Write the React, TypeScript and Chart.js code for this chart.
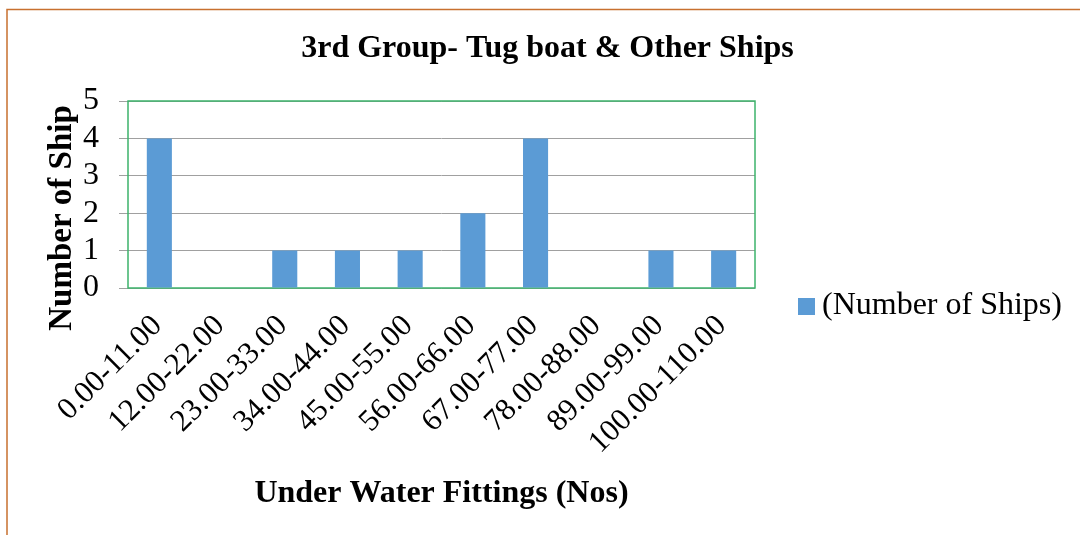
import { useEffect, useRef } from 'react';
import { Chart, registerables } from 'chart.js';

Chart.register(...registerables);

const chartTitle = '3rd Group- Tug boat & Other Ships';
const xAxisTitle = 'Under Water Fittings (Nos)';
const yAxisTitle = 'Number of Ship';
const seriesName = '(Number of Ships)';

const categories = [
  '0.00-11.00',
  '12.00-22.00',
  '23.00-33.00',
  '34.00-44.00',
  '45.00-55.00',
  '56.00-66.00',
  '67.00-77.00',
  '78.00-88.00',
  '89.00-99.00',
  '100.00-110.00',
];
const shipCounts = [4, 0, 1, 1, 1, 2, 4, 0, 1, 1];

const yMin = 0;
const yMax = 5;
const yStep = 1;

const SERIF = '"Liberation Serif", "Times New Roman", serif';
const BAR_COLOR = '#5B9BD5';
const GRID_COLOR = '#A0A0A0';
const PLOT_BORDER = '#3DB36B';
const FRAME_COLOR = '#C8702F';

export default function App() {
  const ref = useRef<HTMLCanvasElement>(null);

  useEffect(() => {
    const canvas = ref.current;
    if (!canvas) return;

    const decor = {
      id: 'decor',
      beforeDraw(chart: any) {
        const { ctx, width, height } = chart;
        ctx.save();
        ctx.fillStyle = '#ffffff';
        ctx.fillRect(0, 0, width, height);
        ctx.strokeStyle = FRAME_COLOR;
        ctx.lineWidth = 1.5;
        ctx.beginPath();
        ctx.moveTo(7, height);
        ctx.lineTo(7, 9.5);
        ctx.lineTo(width, 9.5);
        ctx.stroke();
        ctx.restore();
      },
      beforeDatasetsDraw(chart: any) {
        const { ctx, chartArea: a } = chart;
        ctx.save();
        ctx.strokeStyle = PLOT_BORDER;
        ctx.lineWidth = 1.5;
        ctx.strokeRect(a.left, a.top, a.right - a.left, a.bottom - a.top);
        ctx.restore();
      },
      afterDraw(chart: any) {
        const { ctx } = chart;
        ctx.save();
        // y axis title
        ctx.translate(62, 218);
        ctx.rotate(-Math.PI / 2);
        ctx.fillStyle = '#000';
        ctx.font = `bold 33px ${SERIF}`;
        ctx.textAlign = 'center';
        ctx.textBaseline = 'middle';
        ctx.fillText(yAxisTitle, 0, 0);
        ctx.restore();

        // legend
        const ds = chart.data.datasets[0];
        ctx.save();
        ctx.fillStyle = ds.backgroundColor;
        ctx.fillRect(798, 298, 17, 17);
        ctx.fillStyle = '#000';
        ctx.font = `32px ${SERIF}`;
        ctx.textAlign = 'left';
        ctx.textBaseline = 'middle';
        ctx.fillText(ds.label, 822, 306);
        ctx.restore();
      },
    };

    const chart = new Chart(canvas, {
      type: 'bar',
      data: {
        labels: categories,
        datasets: [
          {
            label: seriesName,
            data: shipCounts,
            backgroundColor: BAR_COLOR,
            borderWidth: 0,
            categoryPercentage: 1,
            barPercentage: 0.4,
          },
        ],
      },
      options: {
        responsive: false,
        animation: false,
        devicePixelRatio: 1,
        layout: { padding: { left: 15, right: 0, top: 0, bottom: 0 } },
        plugins: {
          legend: { display: false },
          tooltip: { enabled: false },
          title: {
            display: true,
            text: chartTitle,
            color: '#000',
            font: { family: SERIF, size: 32, weight: 'bold', lineHeight: 1.2 },
            padding: { top: 30, bottom: 32.6 },
          },
        },
        scales: {
          x: {
            type: 'category',
            grid: { display: false, drawTicks: false },
            border: { display: false },
            ticks: {
              color: '#000',
              font: { family: SERIF, size: 31, lineHeight: 1.2 },
              maxRotation: 45,
              minRotation: 45,
              autoSkip: false,
              padding: 20,
              labelOffset: -2,
            },
            title: {
              display: true,
              text: xAxisTitle,
              color: '#000',
              font: { family: SERIF, size: 32, weight: 'bold', lineHeight: 1.2 },
              padding: { top: 0, bottom: 22 },
            },
            afterFit: (scale: any) => {
              scale.height = 247;
            },
          },
          y: {
            type: 'linear',
            min: yMin,
            max: yMax,
            grid: { color: GRID_COLOR, lineWidth: 1, drawTicks: true, tickLength: 9 },
            border: { display: false },
            ticks: {
              stepSize: yStep,
              autoSkip: false,
              color: '#000',
              font: { family: SERIF, size: 32 },
              padding: 20,
            },
            afterFit: (scale: any) => {
              scale.width = 113;
            },
          },
          y2: {
            type: 'linear',
            position: 'right',
            display: true,
            grid: { display: false, drawTicks: false },
            border: { display: false },
            ticks: { display: false },
            afterFit: (scale: any) => {
              scale.width = 325;
            },
          },
        },
      } as any,
      plugins: [decor],
    });

    return () => chart.destroy();
  }, []);

  return (
    <div style={{ position: 'fixed', left: 0, top: 0, width: 1080, height: 535, background: '#fff' }}>
      <canvas ref={ref} width={1080} height={535} style={{ display: 'block', width: 1080, height: 535 }} />
    </div>
  );
}
